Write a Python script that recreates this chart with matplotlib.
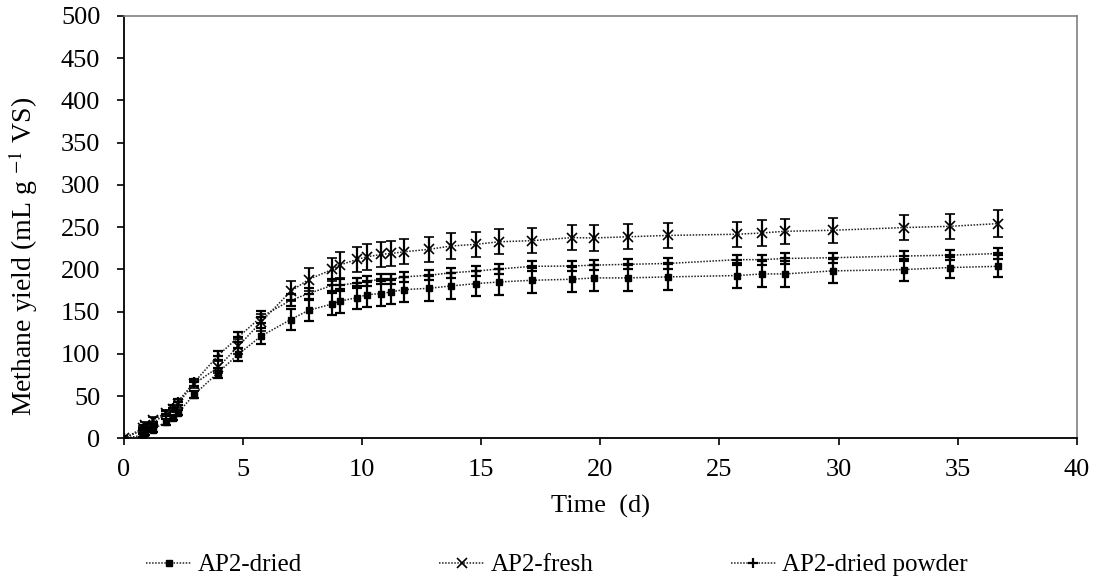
import matplotlib
matplotlib.use("Agg")
import matplotlib.pyplot as plt

plt.rcParams['font.family'] = ['Liberation Serif', 'DejaVu Serif']
plt.rcParams['mathtext.fontset'] = 'stix'

days = [0, 0.8, 0.9, 1.2, 1.75, 2.05, 2.25, 2.95, 3.95, 4.8, 5.75, 7.0, 7.75, 8.75, 9.05,
        9.8, 10.2, 10.8, 11.2, 11.75, 12.8, 13.75, 14.8, 15.75, 17.15, 18.8, 19.75, 21.15,
        22.85, 25.75, 26.8, 27.75, 29.75, 32.75, 34.7, 36.7]

dried = [0, 3.6, 6.3, 10.3, 19.3, 24.1, 30, 51.7, 77.8, 99.5, 120.8, 140.6, 151.5, 159.1, 162.3,
         166.6, 170.1, 171.3, 173.3, 176, 177.6, 180.4, 183.2, 185.1, 187.1, 188.3, 189.9, 189.9,
         191.1, 192.7, 194.6, 194.6, 198.2, 199.8, 202.2, 203.6]
dried_err = [0, 2, 2, 3, 3, 3, 3, 4, 6, 8, 9.5, 12.5, 13, 13.5, 14,
             14, 14.5, 14.5, 14.5, 15, 15, 15, 15, 15, 15, 15, 15, 15,
             15, 15, 15, 15, 14, 13, 13, 13]

fresh = [0, 12, 16, 21.3, 30, 35, 41, 64.4, 84, 109, 137.6, 174, 188, 200, 205,
         212, 214.8, 217.8, 218.8, 220.8, 223.7, 227.7, 229.7, 232.7, 234, 237.6, 237.2, 238.6,
         240.2, 241.6, 243.1, 245.1, 246.3, 249.5, 251, 254.2]
fresh_err = [0, 3, 3, 4, 4, 4, 5, 5, 7, 9, 10, 12, 14, 14, 15,
             15, 15, 15, 15, 15, 15, 15, 15, 15, 15, 15, 15, 15,
             15, 15, 15, 15, 15, 15, 15, 16]

powder = [0, 10, 13.4, 17.4, 29.2, 36, 43, 66.3, 98, 119.8, 143.6, 163.4, 171.3, 181.2, 181.2,
          184.1, 186.1, 188.1, 188.1, 191.1, 193, 196, 198, 200.5, 203.6, 204, 205, 206,
          207, 211.5, 211.5, 212.9, 213.8, 215.8, 216.8, 218.8]
powder_err = [0, 2, 2, 2, 3, 3, 3, 4, 5, 6, 7, 7, 7, 7, 7,
              6, 6, 6, 6, 6, 6, 6, 6, 6, 6, 6, 6, 6,
              6, 6, 6, 6, 6, 6, 6, 6]

labels = ['AP2-dried', 'AP2-fresh', 'AP2-dried powder']
x_ticks = list(range(0, 41, 5))
y_ticks = list(range(0, 501, 50))

fig = plt.figure(figsize=(11, 5.88), dpi=100)
ax = fig.add_axes([0.1127, 0.2546, 0.9788 - 0.1127, 0.9728 - 0.2546])

line_kw = dict(color='#222222', linestyle=(0, (1, 1)), linewidth=1.1)
err_kw = dict(ecolor='black', elinewidth=1.6, capsize=3.5, capthick=1.6)

ax.errorbar(days, dried, yerr=dried_err, marker='s', markersize=6.5, markerfacecolor='black',
            markeredgecolor='black', label=labels[0], **line_kw, **err_kw)
ax.errorbar(days, fresh, yerr=fresh_err, marker='x', markersize=9, markeredgewidth=1.2,
            markeredgecolor='black', label=labels[1], **line_kw, **err_kw)
ax.errorbar(days, powder, yerr=powder_err, marker='+', markersize=9, markeredgewidth=1.6,
            markeredgecolor='black', label=labels[2], **line_kw, **err_kw)

ax.set_xlim(0, 40)
ax.set_ylim(0, 500)
ax.set_xticks(x_ticks)
ax.set_yticks(y_ticks)
ax.tick_params(axis='both', direction='out', length=5, width=1.2, labelsize=19, colors='black')
ax.tick_params(axis='y', pad=12)
ax.tick_params(axis='x', pad=10)
for s in ['top', 'right']:
    ax.spines[s].set_color('#808080')
    ax.spines[s].set_linewidth(1.2)
for s in ['left', 'bottom']:
    ax.spines[s].set_color('black')
    ax.spines[s].set_linewidth(1.3)

ax.set_xlabel('Time  (d)', fontsize=19, labelpad=10)
ax.set_ylabel('Methane yield (mL g $^{-1}$ VS)', fontsize=20, labelpad=16)
ax.yaxis.set_label_coords(-0.088, 0.43)

handles, labs = ax.get_legend_handles_labels()
handles = [h[0] for h in handles]
for h in handles:
    h.set_markersize(h.get_markersize() * 0.75)
leg = fig.legend(handles, labs, loc='center', bbox_to_anchor=(557 / 1100, 1 - 565 / 588),
                 ncol=3, frameon=False, fontsize=18, handlelength=1.8, handletextpad=0.25,
                 columnspacing=5.5)

fig.savefig('out.png', dpi=100)
